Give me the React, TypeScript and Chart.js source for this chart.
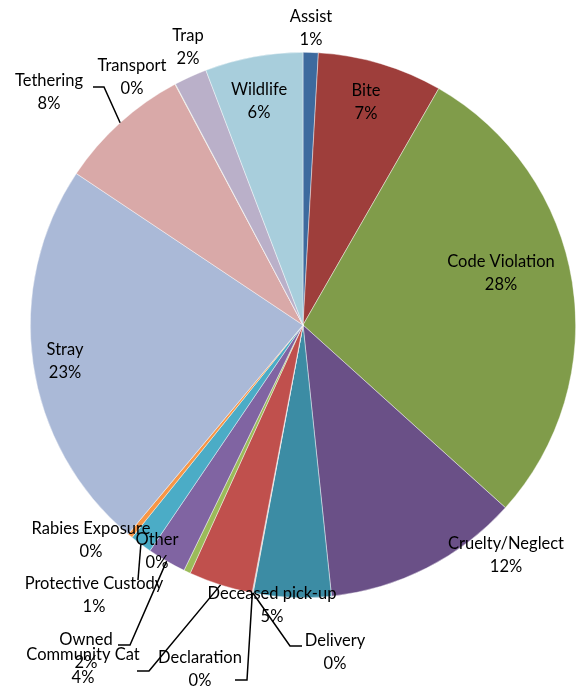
import React, { useEffect, useRef } from "react";
import { Chart, registerables } from "chart.js";

Chart.register(...registerables);

// Clockwise from 12 o'clock
const categories = [
  "Assist",
  "Bite",
  "Code Violation",
  "Cruelty/Neglect",
  "Deceased pick-up",
  "Delivery",
  "Declaration",
  "Community Cat",
  "Other",
  "Owned",
  "Protective Custody",
  "Rabies Exposure",
  "Stray",
  "Tethering",
  "Transport",
  "Trap",
  "Wildlife",
];

// Share of calls (%)
const values = [0.9, 7.4, 28.4, 11.65, 4.6, 0.03, 0.03, 3.8, 0.4, 2.3, 1.3, 0.3, 23.3, 7.85, 0.03, 1.95, 5.8];

const colors = [
  "#3D6A9E",
  "#9E3E3B",
  "#809C4A",
  "#6A5087",
  "#3C8CA4",
  "#D27E35",
  "#4F81BD",
  "#C0504D",
  "#9BBB59",
  "#8064A2",
  "#4BACC6",
  "#F79646",
  "#AAB9D7",
  "#D9A9A8",
  "#C7D8A8",
  "#BAB0C9",
  "#A8CEDC",
];

// Label centre offsets from the pie centre (px)
const labelOffsets: [number, number][] = [
  [8, -297],
  [63, -223],
  [198, -52],
  [203, 230],
  [-31, 280],
  [32, 327],
  [-103, 344],
  [-220, 341],
  [-146, 226],
  [-217, 326],
  [-209, 270],
  [-212, 215],
  [-238, 36],
  [-254, -233],
  [-171, -248],
  [-115, -278],
  [-44, -224],
];

// Leader line points relative to pie centre (px), ending at slice edge
const leaderLines: Record<string, [number, number][]> = {
  Tethering: [[-210, -238], [-199, -238]],
  Delivery: [[-1, 321], [-13, 321]],
  Declaration: [[-68, 355], [-56, 355]],
  "Community Cat": [[-166, 346], [-154, 346]],
  Owned: [[-185, 320], [-173, 320]],
  "Protective Custody": [[-165, 255]],
};

const FONT = '16.5px Lato, "Open Sans", sans-serif';

const labelPlugin = {
  id: "pieLabels",
  afterDatasetsDraw(chart: any) {
    const ctx: CanvasRenderingContext2D = chart.ctx;
    const meta = chart.getDatasetMeta(0);
    const data = chart.data.datasets[0].data as number[];
    const total = data.reduce((a, b) => a + b, 0);
    ctx.save();
    // leader lines
    ctx.strokeStyle = "#000";
    ctx.lineWidth = 1.5;
    meta.data.forEach((arc: any, i: number) => {
      const name = categories[i];
      const pts = leaderLines[name];
      if (!pts) return;
      const { x, y, startAngle, endAngle, outerRadius } = arc.getProps(
        ["x", "y", "startAngle", "endAngle", "outerRadius"],
        true
      );
      const mid = (startAngle + endAngle) / 2;
      ctx.beginPath();
      pts.forEach((p, j) => {
        if (j === 0) ctx.moveTo(x + p[0], y + p[1]);
        else ctx.lineTo(x + p[0], y + p[1]);
      });
      ctx.lineTo(x + Math.cos(mid) * outerRadius, y + Math.sin(mid) * outerRadius);
      ctx.stroke();
    });
    // labels
    ctx.font = FONT;
    ctx.fillStyle = "#000";
    ctx.textAlign = "center";
    ctx.textBaseline = "middle";
    meta.data.forEach((arc: any, i: number) => {
      const { x, y } = arc.getProps(["x", "y"], true);
      const [dx, dy] = labelOffsets[i];
      const pct = Math.round((data[i] / total) * 100) + "%";
      ctx.fillText(categories[i], x + dx, y + dy - 11.5);
      ctx.fillText(pct, x + dx, y + dy + 11.5);
    });
    ctx.restore();
  },
};

export default function App() {
  const ref = useRef<HTMLCanvasElement>(null);
  useEffect(() => {
    document.body.style.margin = "0";
    const chart = new Chart(ref.current!, {
      type: "pie",
      data: {
        labels: categories,
        datasets: [
          {
            data: values,
            backgroundColor: colors,
            borderColor: "rgba(255,255,255,0.6)",
            borderWidth: 0.7,
            hoverOffset: 0,
          },
        ],
      },
      options: {
        responsive: false,
        animation: false,
        layout: { padding: { left: 30, right: 4, top: 52, bottom: 94 } },
        plugins: {
          legend: { display: false },
          tooltip: { enabled: false },
        },
      },
      plugins: [labelPlugin],
    });
    return () => chart.destroy();
  }, []);
  return (
    <div style={{ width: 580, height: 692, background: "#fff" }}>
      <canvas ref={ref} width={580} height={692} style={{ width: 580, height: 692, display: "block" }} />
    </div>
  );
}
